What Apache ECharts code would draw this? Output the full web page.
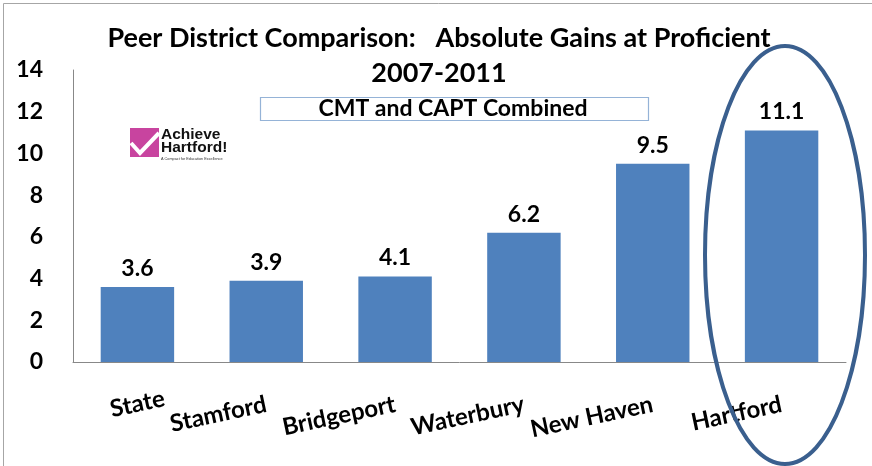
<!DOCTYPE html>
<html>
<head>
<meta charset="utf-8">
<script src="https://cdn.jsdelivr.net/npm/echarts@6/dist/echarts.min.js"></script>
<style>
html,body{margin:0;padding:0;background:#fff;}
#chart{width:872px;height:466px;}
</style>
</head>
<body>
<div id="chart"></div>
<script>
const categories = ['State', 'Stamford', 'Bridgeport', 'Waterbury', 'New Haven', 'Hartford'];
const gains = [3.6, 3.9, 4.1, 6.2, 9.5, 11.1];
const yTicks = { min: 0, max: 14, interval: 2 };
const titleLine1 = 'Peer District Comparison:   Absolute Gains at Proficient';
const titleLine2 = '2007-2011';
const subtitleText = 'CMT and CAPT Combined';

const FONT = 'Lato, "Open Sans", sans-serif';
const chart = echarts.init(document.getElementById('chart'), null, { renderer: 'canvas' });

// logo pixel grid lines
const logoX = 130, logoY = 128, logoS = 29;
const logoGrid = [];
for (let i = 1; i < 10; i++) {
  const p = i * logoS / 10;
  logoGrid.push({ type: 'line', shape: { x1: logoX + p, y1: logoY, x2: logoX + p, y2: logoY + logoS }, style: { stroke: '#E7A6D6', lineWidth: 0.8 }, silent: true });
  logoGrid.push({ type: 'line', shape: { x1: logoX, y1: logoY + p, x2: logoX + logoS, y2: logoY + p }, style: { stroke: '#E7A6D6', lineWidth: 0.8 }, silent: true });
}

chart.setOption({
  animation: false,
  backgroundColor: '#fff',
  grid: { left: 73, right: 26, top: 70, bottom: 104, containLabel: false },
  xAxis: {
    type: 'category',
    data: categories.map((c, i) => i === 0 ? { value: c, textStyle: { align: 'center' } } : c),
    axisLine: { show: true, lineStyle: { color: '#888888', width: 1 } },
    axisTick: { show: false },
    axisLabel: {
      interval: 0, rotate: 12, margin: 42,
      fontFamily: FONT, fontWeight: 'bold', fontSize: 24, color: '#000'
    },
    splitLine: { show: false }
  },
  yAxis: {
    type: 'value',
    min: yTicks.min, max: yTicks.max, interval: yTicks.interval,
    axisLine: { show: true, lineStyle: { color: '#888888', width: 1 } },
    axisTick: { show: false },
    splitLine: { show: false },
    axisLabel: { margin: 30, fontFamily: FONT, fontWeight: 'bold', fontSize: 23, color: '#000' }
  },
  series: [{
    type: 'bar',
    data: gains,
    barWidth: '57%',
    itemStyle: { color: '#4F81BD' },
    label: {
      show: true, position: 'top', distance: 7,
      fontFamily: FONT, fontWeight: 'bold', fontSize: 23, color: '#000',
      formatter: p => p.value.toFixed(1)
    }
  }],
  graphic: [
    { type: 'rect', shape: { x: 3.5, y: 3.5, width: 900, height: 500 }, style: { fill: null, stroke: '#A6A6A6', lineWidth: 1 }, silent: true },
    { type: 'text', x: 439, y: 38, style: { text: titleLine1, fontFamily: FONT, fontWeight: 'bold', fontSize: 27, fill: '#000', align: 'center', verticalAlign: 'middle' } },
    { type: 'text', x: 439, y: 73, style: { text: titleLine2, fontFamily: FONT, fontWeight: 'bold', fontSize: 27, fill: '#000', align: 'center', verticalAlign: 'middle' } },
    { type: 'rect', shape: { x: 260.5, y: 97.5, width: 388, height: 23 }, style: { fill: '#fff', stroke: '#95B3D7', lineWidth: 1.2 }, z: 5 },
    { type: 'text', x: 453, y: 109, z: 6, style: { text: subtitleText, fontFamily: FONT, fontWeight: 'bold', fontSize: 23, fill: '#000', align: 'center', verticalAlign: 'middle' } },
    { type: 'rect', shape: { x: logoX, y: logoY, width: logoS, height: logoS }, style: { fill: '#C8449F' }, z: 5 },
    { type: 'group', z: 6, children: logoGrid },
    { type: 'polyline', z: 7, shape: { points: [[logoX + 1, logoY + 15], [logoX + 10, logoY + 25], [logoX + logoS, logoY + 5]] }, style: { stroke: '#fff', lineWidth: 4, fill: null } },
    { type: 'text', x: 161, y: 135, z: 6, style: { text: 'Achieve', fontFamily: '"Liberation Sans", Arial, sans-serif', fontWeight: 'bold', fontSize: 15.5, fill: '#111', verticalAlign: 'middle' } },
    { type: 'text', x: 161, y: 148, z: 6, style: { text: 'Hartford!', fontFamily: '"Liberation Sans", Arial, sans-serif', fontWeight: 'bold', fontSize: 15.5, fill: '#111', verticalAlign: 'middle' } },
    { type: 'text', x: 161, y: 159, z: 6, style: { text: 'A Compact for Education Excellence', fontFamily: '"Liberation Sans", Arial, sans-serif', fontSize: 3.8, fill: '#333', verticalAlign: 'middle' } },
    { type: 'ellipse', z: 20, shape: { cx: 785, cy: 255, rx: 80, ry: 209 }, style: { fill: null, stroke: '#3A5F8E', lineWidth: 4 } }
  ]
});
</script>
</body>
</html>
